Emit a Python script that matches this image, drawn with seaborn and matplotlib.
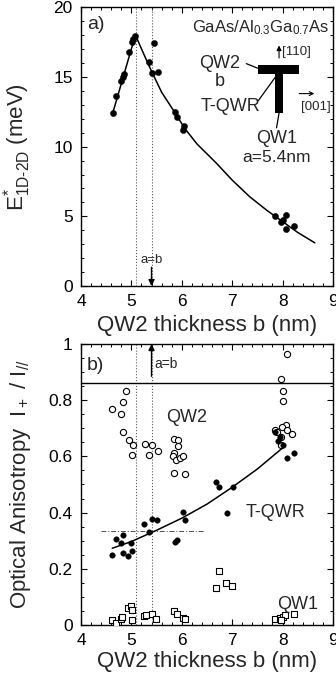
import numpy as np
import pandas as pd
import matplotlib
matplotlib.use("Agg")
import matplotlib.pyplot as plt
import matplotlib.patches as mpatches
from matplotlib.ticker import MultipleLocator
import seaborn as sns

# ---------------- data: panel a ----------------
a_x = [4.63, 4.69, 4.79, 4.83, 4.85, 4.95, 5.01, 5.04, 5.07, 5.45, 5.34, 5.40, 5.52,
       5.87, 5.90, 6.02, 6.05, 7.85, 7.97, 8.00, 8.07, 8.06, 8.23]
a_y = [12.4, 13.6, 14.7, 15.0, 15.2, 16.8, 17.5, 17.7, 17.95, 17.4, 16.1, 15.3, 15.35,
       12.5, 12.15, 11.2, 11.45, 5.0, 4.6, 4.75, 5.1, 4.1, 4.3]
# fitted curve
a_fit_x = [4.63, 5.08, 5.25, 5.40, 5.60, 5.87, 6.06, 6.30, 6.69, 7.00, 7.35, 7.70, 8.01, 8.30, 8.64]
a_fit_y = [12.4, 18.0, 16.6, 15.4, 13.9, 12.4, 11.3, 10.2, 8.8, 7.6, 6.4, 5.4, 4.6, 3.85, 3.1]

# ---------------- data: panel b ----------------
qw2_x = [4.89, 4.62, 4.83, 4.80, 4.84, 4.96, 5.04, 5.01, 5.27, 5.34, 5.41, 5.52,
         5.85, 5.92, 5.93, 5.85, 5.83, 5.88, 5.96, 6.03, 5.85, 6.07,
         8.09, 7.97, 8.00, 8.00, 7.85, 7.88, 8.07, 7.98, 8.09, 7.97, 8.19, 7.97]
qw2_y = [0.833, 0.770, 0.792, 0.751, 0.688, 0.658, 0.640, 0.605, 0.643, 0.605, 0.640, 0.618,
         0.662, 0.658, 0.637, 0.613, 0.600, 0.588, 0.594, 0.600, 0.540, 0.538,
         0.963, 0.874, 0.833, 0.798, 0.694, 0.688, 0.712, 0.706, 0.694, 0.670, 0.678, 0.640]

tqwr_x = [4.62, 4.69, 4.83, 4.79, 4.84, 4.94, 5.02, 5.00, 5.26, 5.34, 5.41, 5.51,
          5.87, 5.90, 6.02, 6.06, 6.68, 6.74, 7.01, 6.89,
          7.84, 7.95, 8.00, 8.08, 8.22, 7.90]
tqwr_y = [0.249, 0.305, 0.320, 0.293, 0.257, 0.246, 0.265, 0.292, 0.358, 0.332, 0.376, 0.374,
          0.297, 0.303, 0.401, 0.374, 0.510, 0.492, 0.492, 0.397,
          0.688, 0.670, 0.640, 0.593, 0.612, 0.655]
tqwr_fit_x = [4.62, 5.00, 5.50, 6.00, 6.50, 7.00, 7.50, 8.00]
tqwr_fit_y = [0.273, 0.297, 0.337, 0.380, 0.430, 0.490, 0.555, 0.630]

qw1_x = [4.62, 4.69, 4.79, 4.81, 4.94, 5.00, 5.02, 5.02, 5.25, 5.30, 5.40, 5.49,
         5.85, 5.90, 6.02, 6.07, 6.68, 6.74, 6.87, 7.00,
         7.84, 7.94, 8.00, 8.05, 7.97, 8.22]
qw1_y = [0.018, 0.008, 0.020, 0.027, 0.059, 0.068, 0.054, 0.018, 0.033, 0.035, 0.039, 0.020,
         0.050, 0.039, 0.024, 0.020, 0.130, 0.193, 0.151, 0.140,
         0.020, 0.024, 0.027, 0.036, 0.018, 0.039]

x_ticks = [4, 5, 6, 7, 8, 9]
a_yticks = [0, 5, 10, 15, 20]
b_yticks = [0, 0.2, 0.4, 0.6, 0.8, 1]
b_yticklabels = ["0", "0.2", "0.4", "0.6", "0.8", "1"]

# ---------------- style ----------------
sns.set_theme(style="ticks")
plt.rcParams["font.family"] = ["Liberation Sans", "DejaVu Sans"]
plt.rcParams["mathtext.fontset"] = "custom"
plt.rcParams["mathtext.rm"] = "Liberation Sans"
plt.rcParams["mathtext.it"] = "Liberation Sans:italic"
plt.rcParams["mathtext.bf"] = "Liberation Sans:bold"

TICK_FS = 12.5
LABEL_FS = 16
ANN_FS = 13

fig = plt.figure(figsize=(3.36, 6.78), dpi=100)
fig.patch.set_facecolor("white")
ax1 = fig.add_axes([0.241, 0.578, 0.750, 0.4115])
ax2 = fig.add_axes([0.241, 0.0782, 0.750, 0.4145])


def style_axes(ax):
    for sp in ax.spines.values():
        sp.set_color("black")
        sp.set_linewidth(1.0)
    ax.tick_params(which="both", direction="in", top=True, right=True,
                   colors="black", labelsize=TICK_FS)
    ax.tick_params(which="major", length=4, width=0.8, pad=6)
    ax.tick_params(which="minor", length=2, width=0.7)
    ax.set_facecolor("white")


# ---------------- panel a ----------------
df_a = pd.DataFrame({"b": a_x, "E": a_y})
df_afit = pd.DataFrame({"b": a_fit_x, "E": a_fit_y})
sns.lineplot(data=df_afit, x="b", y="E", ax=ax1, color="black", lw=1.1, sort=False,
             estimator=None)
sns.scatterplot(data=df_a, x="b", y="E", ax=ax1, color="black", s=20, edgecolor="black",
                linewidth=0.3, zorder=3)
ax1.set_xlim(4, 9)
ax1.set_ylim(0, 20)
ax1.set_xticks(x_ticks)
ax1.set_yticks(a_yticks)
ax1.xaxis.set_minor_locator(MultipleLocator(0.2))
ax1.yaxis.set_minor_locator(MultipleLocator(1))
style_axes(ax1)
ax1.axvline(5.1, color="0.35", ls=":", lw=0.8)
ax1.axvline(5.4, color="0.35", ls=":", lw=0.8)
ax1.set_xlabel("QW2 thickness b (nm)", fontsize=LABEL_FS)
ax1.set_ylabel(r"E$^{\mathregular{*}}_{\mathregular{1D\text{-}2D}}$ (meV)", fontsize=LABEL_FS)
ax1.xaxis.set_label_coords(0.5, -0.105)
ax1.yaxis.set_label_coords(-0.19, 0.5)

ax1.text(4.12, 18.75, "a)", fontsize=ANN_FS + 1, va="center", ha="left")
ax1.text(8.92, 18.5, r"GaAs/Al$_{0.3}$Ga$_{0.7}$As", fontsize=12, ha="right", va="center")
ax1.annotate("", xy=(5.4, 0.0), xytext=(5.4, 1.35),
             arrowprops=dict(arrowstyle="-|>", color="black", lw=1.0,
                             mutation_scale=9, shrinkA=0, shrinkB=0))
ax1.text(5.4, 1.45, "a=b", fontsize=9.5, ha="center", va="bottom")

# inset schematic (T shape)
ax1.add_patch(mpatches.Rectangle((7.52, 15.2), 0.81, 0.65, color="black", lw=0))
ax1.add_patch(mpatches.Rectangle((7.84, 12.4), 0.17, 2.85, color="black", lw=0))
ax1.text(6.76, 15.95, "QW2", fontsize=ANN_FS, ha="center", va="center")
ax1.text(6.76, 14.65, "b", fontsize=ANN_FS, ha="center", va="center")
ax1.text(6.96, 12.9, "T-QWR", fontsize=ANN_FS, ha="center", va="center")
ax1.text(7.88, 10.6, "QW1", fontsize=ANN_FS, ha="center", va="center")
ax1.text(7.88, 9.25, "a=5.4nm", fontsize=ANN_FS - 0.5, ha="center", va="center")
ax1.plot([7.28, 7.52], [15.95, 15.6], color="black", lw=0.9)
ax1.plot([7.52, 7.86], [13.3, 15.0], color="black", lw=0.9)
ax1.plot([7.88, 7.93], [11.35, 12.4], color="black", lw=0.9)
ax1.annotate("", xy=(7.93, 17.25), xytext=(7.93, 16.35),
             arrowprops=dict(arrowstyle="-|>", color="black", lw=0.8,
                             mutation_scale=7, shrinkA=0, shrinkB=0))
ax1.text(7.99, 16.75, "[110]", fontsize=9.5, ha="left", va="center")
ax1.annotate("", xy=(8.63, 13.8), xytext=(8.33, 13.8),
             arrowprops=dict(arrowstyle="->", color="black", lw=0.8,
                             mutation_scale=7, shrinkA=0, shrinkB=0))
ax1.text(8.95, 12.85, "[001]", fontsize=9.5, ha="right", va="center")

# ---------------- panel b ----------------
df_qw2 = pd.DataFrame({"b": qw2_x, "A": qw2_y})
df_tq = pd.DataFrame({"b": tqwr_x, "A": tqwr_y})
df_tqfit = pd.DataFrame({"b": tqwr_fit_x, "A": tqwr_fit_y})
df_qw1 = pd.DataFrame({"b": qw1_x, "A": qw1_y})

ax2.axvline(5.1, color="0.35", ls=":", lw=0.8, zorder=1)
ax2.axvline(5.4, color="0.35", ls=":", lw=0.8, zorder=1)
ax2.axhline(0.86, color="black", lw=1.0, zorder=1)
ax2.plot([4.4, 6.45], [0.333, 0.333], color="0.3", ls=(0, (5, 2, 1, 2)), lw=0.7, zorder=1)

sns.lineplot(data=df_tqfit, x="b", y="A", ax=ax2, color="black", lw=1.1, sort=False,
             estimator=None, zorder=2)
sns.scatterplot(data=df_qw2, x="b", y="A", ax=ax2, marker="o", s=20,
                facecolor="white", edgecolor="black", linewidth=0.8, zorder=3)
sns.scatterplot(data=df_tq, x="b", y="A", ax=ax2, marker="o", s=16,
                color="black", edgecolor="black", linewidth=0.3, zorder=4)
sns.scatterplot(data=df_qw1, x="b", y="A", ax=ax2, marker="s", s=18,
                facecolor="white", edgecolor="black", linewidth=0.8, zorder=3)

ax2.set_xlim(4, 9)
ax2.set_ylim(0, 1)
ax2.set_xticks(x_ticks)
ax2.set_yticks(b_yticks)
ax2.set_yticklabels(b_yticklabels)
ax2.xaxis.set_minor_locator(MultipleLocator(0.2))
ax2.yaxis.set_minor_locator(MultipleLocator(0.05))
style_axes(ax2)
ax2.set_xlabel("QW2 thickness b (nm)", fontsize=LABEL_FS)
ax2.set_ylabel(r"Optical Anisotropy  I$_+$ / I$_{//}$", fontsize=LABEL_FS)
ax2.xaxis.set_label_coords(0.5, -0.092)
ax2.yaxis.set_label_coords(-0.19, 0.5)

ax2.text(4.12, 0.925, "b)", fontsize=ANN_FS + 1, va="center", ha="left")
ax2.annotate("", xy=(5.4, 1.0), xytext=(5.4, 0.885),
             arrowprops=dict(arrowstyle="-|>", color="black", lw=1.0,
                             mutation_scale=9, shrinkA=0, shrinkB=0))
ax2.text(5.46, 0.93, "a=b", fontsize=10, ha="left", va="center")
ax2.text(6.1, 0.74, "QW2", fontsize=ANN_FS, ha="center", va="center")
ax2.text(7.85, 0.40, "T-QWR", fontsize=ANN_FS, ha="center", va="center")
ax2.text(8.3, 0.056, "QW1", fontsize=ANN_FS, ha="center", va="baseline")

fig.savefig("out.png", dpi=100, facecolor="white")
